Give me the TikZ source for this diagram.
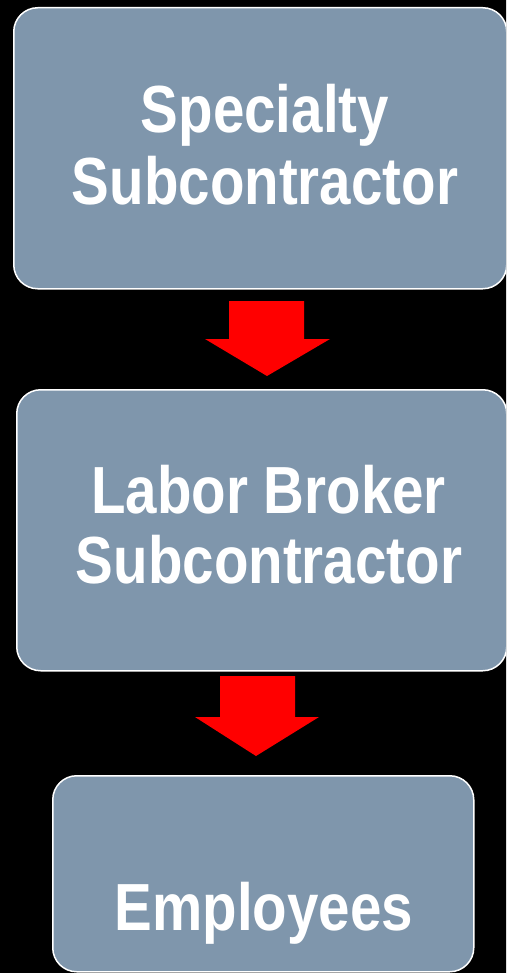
\documentclass[tikz,border=0pt]{standalone}
\usepackage{fontspec}
\setmainfont{Liberation Sans}
\definecolor{boxblue}{RGB}{127,150,172}
\definecolor{edgegray}{RGB}{34,34,34}
\pgfdeclareradialshading{bgshade}{\pgfpoint{0bp}{0bp}}{color(0bp)=(black); color(14bp)=(black); color(25bp)=(edgegray); color(50bp)=(edgegray)}
\begin{document}
\begin{tikzpicture}[x=1pt,y=-1pt,
  box/.style={draw=white, line width=1.5pt, fill=boxblue, rounded corners=24pt, anchor=north west, inner sep=0pt},
  boxtext/.style={text=white, font=\fontsize{56.5}{61}\selectfont\bfseries, anchor=base, inner sep=0pt},
  blockarrow/.style={fill=red, draw=none}]
\useasboundingbox (0,0) rectangle (506,973);
\clip (0,0) rectangle (506,973);
\shade[shading=bgshade] (-747,-514) rectangle (1253,1486);
% boxes
\node[box, minimum width=493pt, minimum height=281pt] (b1) at (13,7) {};
\node[box, minimum width=490pt, minimum height=281pt] (b2) at (16,389) {};
\node[box, minimum width=421pt, minimum height=196pt] (b3) at (52,775) {};
% texts
\node[boxtext] (t1a) at (265,133) {\scalebox{1}[1.18]{Specialty}};
\node[boxtext] (t1b) at (265,205) {\scalebox{1}[1.18]{Subcontractor}};
\node[boxtext] (t2a) at (268.5,513) {\scalebox{1}[1.18]{Labor Broker}};
\node[boxtext] (t2b) at (269,583) {\scalebox{1}[1.18]{Subcontractor}};
\node[boxtext] (t3) at (264,930) {\scalebox{1}[1.18]{Employees}};
% block arrows
\coordinate (a1) at (267,376);
\coordinate (a2) at (256,756);
\fill[blockarrow] (229,301) -- (304,301) -- (304,339) -- (330,339) -- (a1) -- (205,339) -- (229,339) -- cycle;
\fill[blockarrow] (220,676) -- (295,676) -- (295,717) -- (319,717) -- (a2) -- (195,717) -- (220,717) -- cycle;
\end{tikzpicture}
\end{document}
